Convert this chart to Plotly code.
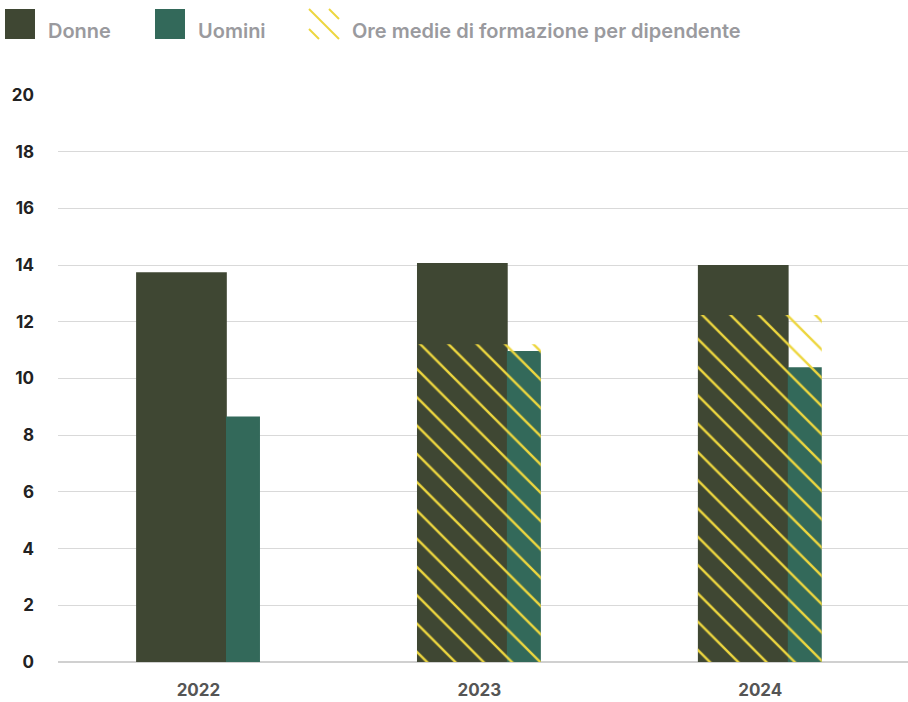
import plotly.graph_objects as go

# ---- data ----
years = ["2022", "2023", "2024"]
donne = [13.75, 14.07, 14.0]
uomini = [8.66, 10.97, 10.4]
ore_medie = [None, 11.21, 12.24]
legend_labels = ["Donne", "Uomini", "Ore medie di formazione per dipendente"]
y_ticks = [0, 2, 4, 6, 8, 10, 12, 14, 16, 18, 20]

# ---- style ----
C_D = "#3F4733"
C_U = "#33695A"
C_Y = "#EDD63F"
FONT = "Inter"
W, H = 908, 702
ML, MR, MT, MB = 58, 0, 95, 40
PW, PH = W - ML - MR, H - MT - MB


def px(x):
    return (x - ML) / PW


def py(y):
    return (H - MB - y) / PH


fig = go.Figure()
fig.add_bar(x=years, y=donne, name=legend_labels[0], width=0.323, offset=-0.222,
            marker=dict(color=C_D, line=dict(width=0)))
fig.add_bar(x=years, y=uomini, name=legend_labels[1], width=0.121, offset=0.098,
            marker=dict(color=C_U, line=dict(width=0)))
fig.add_bar(x=years, y=ore_medie, name=legend_labels[2], width=0.441, offset=-0.222,
            marker=dict(color="rgba(0,0,0,0)", line=dict(width=0),
                        pattern=dict(shape="\\", fgcolor=C_Y, bgcolor="rgba(0,0,0,0)",
                                     fgopacity=1, size=20, solidity=0.12,
                                     fillmode="overlay")))

shapes = []
annotations = []
# legend squares
for x0, col in [(5, C_D), (155, C_U)]:
    shapes.append(dict(type="rect", xref="paper", yref="paper",
                       x0=px(x0), x1=px(x0 + 30), y0=py(39), y1=py(9),
                       fillcolor=col, line=dict(width=0), layer="above"))
# hatch legend icon
for (a, b, c, d) in [(309, 9, 339, 39), (329, 9, 339, 19), (309, 29, 319, 39)]:
    shapes.append(dict(type="line", xref="paper", yref="paper",
                       x0=px(a), y0=py(b), x1=px(c), y1=py(d),
                       line=dict(color=C_Y, width=2), layer="above"))
for tx, label in zip([46, 196, 350], legend_labels):
    annotations.append(dict(xref="paper", yref="paper", x=px(tx), y=py(31),
                            xanchor="left", yanchor="middle", showarrow=False,
                            text=label,
                            font=dict(family=FONT, size=20, color="#9A9A9E", weight=600)))

fig.update_layout(
    width=W, height=H,
    margin=dict(l=ML, r=MR, t=MT, b=MB),
    barmode="overlay",
    showlegend=False,
    plot_bgcolor="white", paper_bgcolor="white",
    shapes=shapes, annotations=annotations,
    xaxis=dict(type="category", range=[-0.5, 2.526], showgrid=False, showline=False,
               ticks="", ticklabelstandoff=16,
               tickfont=dict(family=FONT, size=17, color="#555555", weight=700)),
    yaxis=dict(range=[0, 20], tickvals=y_ticks, showgrid=True, gridcolor="#D9D9D9",
               gridwidth=1, zeroline=True, zerolinecolor="#D0D0D0", zerolinewidth=1.5,
               showline=False, ticks="", ticklabelstandoff=23,
               tickfont=dict(family=FONT, size=17, color="#222222", weight=700)),
)

fig.write_html(
    "out.html",
    config={"displayModeBar": False},
    post_script="document.body.style.margin='0';document.body.style.overflow='hidden';",
)
